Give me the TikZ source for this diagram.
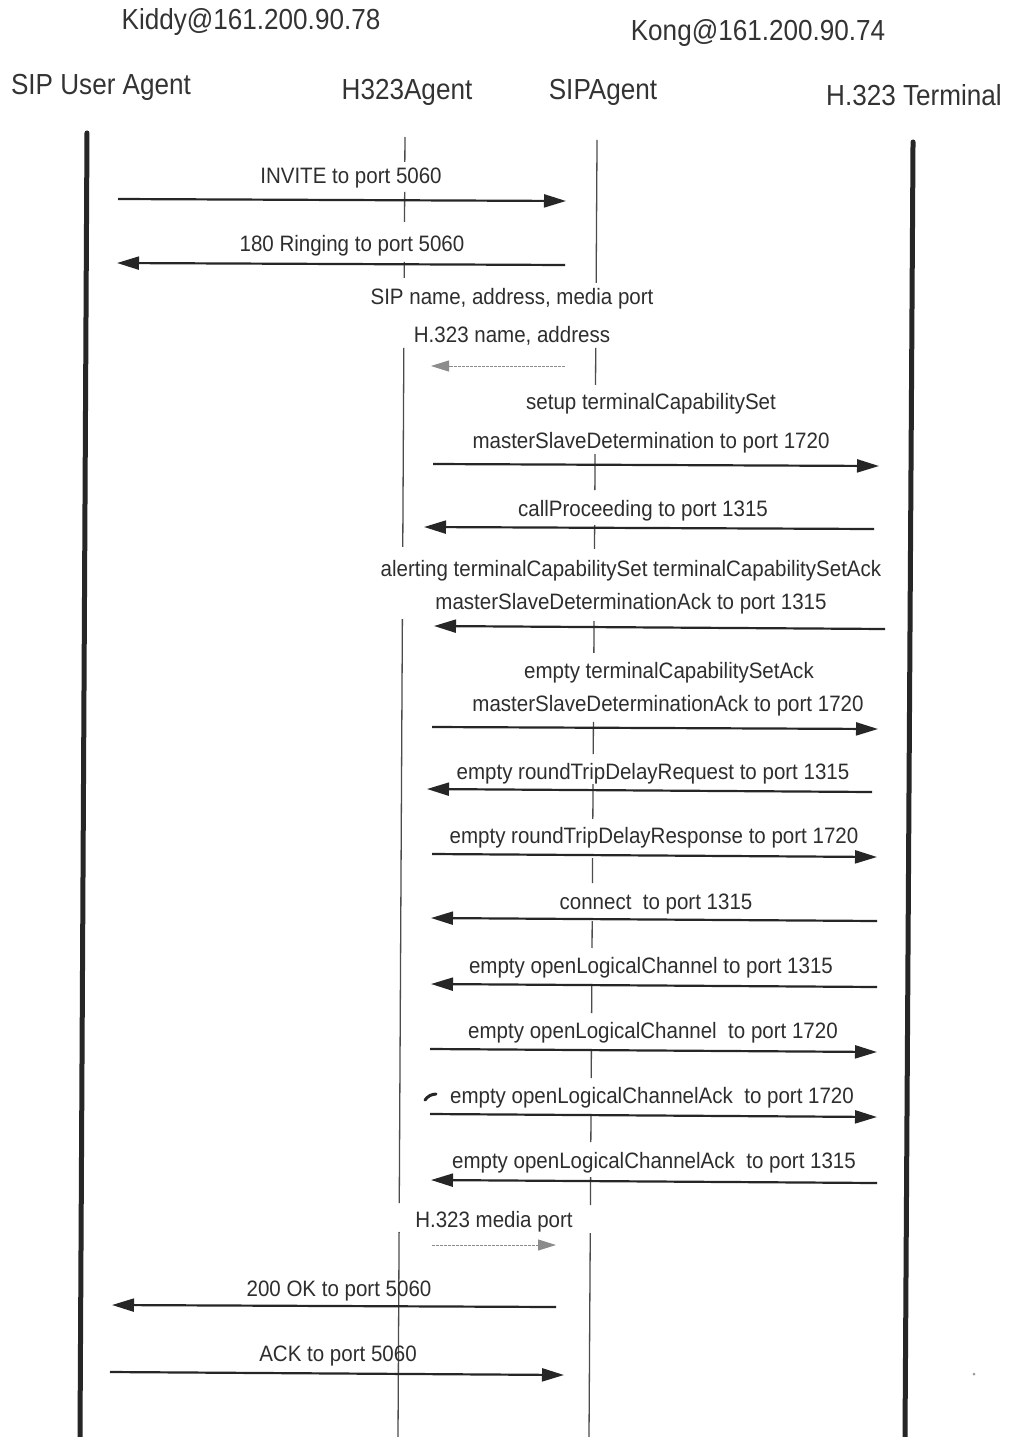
\documentclass[tikz,border=0pt]{standalone}
\usepackage{fontspec}
\setmainfont{Liberation Sans}
\newfontfamily\hdfont{Liberation Sans}[FakeStretch=0.9]
\newfontfamily\lbfont{Liberation Sans}[FakeStretch=0.92]
\usetikzlibrary{calc,arrows.meta}

\begin{document}
\begin{tikzpicture}[x=1pt,y=-1pt,
 hdr/.style={font=\hdfont\fontsize{29}{34}\selectfont, text=black!80, inner sep=0pt, text height=21pt, text depth=6pt},
 lbl/.style={font=\lbfont\fontsize{22.3}{26}\selectfont, text=black!82, inner sep=0pt, text height=16pt, text depth=4.5pt},
 msg/.style={draw=black!85, line width=2.2pt, -{Triangle[length=22pt,width=13pt]}},
 note/.style={draw=black!45, line width=1pt, dash pattern=on 3pt off 1pt, -{Triangle[length=18pt,width=11pt,fill=black!45]}},
 thicklife/.style={draw=black!85, line width=5pt, line cap=round},
 thinlife/.style={draw=black!70, line width=1.3pt},
]
\fill[white] (0,0) rectangle (1009,1437);
\useasboundingbox (0,0) rectangle (1009,1437);

% headers
\node[hdr] (kiddy) at (251,22) {Kiddy@161.200.90.78};
\node[hdr] (kong) at (758,33) {Kong@161.200.90.74};
\node[hdr] (ua) at (101,87) {SIP User Agent};
\node[hdr] (h323a) at (407,92) {H323Agent};
\node[hdr] (sipa) at (603,92) {SIPAgent};
\node[hdr] (term) at (914,98) {H.323 Terminal};

% lifeline reference points
\coordinate (U0) at (87.7,0);  \coordinate (U1) at (80,1437);
\coordinate (H0) at (405.7,0); \coordinate (H1) at (398,1437);
\coordinate (S0) at (597.9,0); \coordinate (S1) at (589,1437);
\coordinate (T0) at (913.9,0); \coordinate (T1) at (905,1437);

% thick lifelines
\draw[thicklife] ($(U0)!{133/1437}!(U1)$) -- ($(U0)!{1.01}!(U1)$);
\draw[thicklife] ($(T0)!{142/1437}!(T1)$) -- ($(T0)!{1.01}!(T1)$);

% thin lifelines (segments)
\foreach \a/\b in {137/162, 192/222, 262/278, 348/547, 619/1203, 1232/1437}
  \draw[thinlife] ($(H0)!{\a/1437}!(H1)$) -- ($(H0)!{\b/1437}!(H1)$);
\foreach \a/\b in {140/283, 348/385, 454/490, 525/549, 621/653, 722/754, 784/819, 858/883, 921/948, 984/1013, 1051/1078, 1115/1142, 1177/1205, 1233/1437}
  \draw[thinlife] ($(S0)!{\a/1437}!(S1)$) -- ($(S0)!{\b/1437}!(S1)$);

% labels
\node[lbl] (l1) at (351,178) {INVITE to port 5060};
\node[lbl] (l2) at (352,246) {180 Ringing to port 5060};
\node[lbl] (l3) at (512,299) {SIP name, address, media port};
\node[lbl] (l4) at (512,337) {H.323 name, address};
\node[lbl] (l5) at (651,404) {setup terminalCapabilitySet};
\node[lbl] (l6) at (651,443) {masterSlaveDetermination to port 1720};
\node[lbl] (l7) at (643,511) {callProceeding to port 1315};
\node[lbl] (l8) at (631,571) {alerting terminalCapabilitySet terminalCapabilitySetAck};
\node[lbl] (l9) at (631,604) {masterSlaveDeterminationAck to port 1315};
\node[lbl] (l10) at (669,673) {empty terminalCapabilitySetAck};
\node[lbl] (l11) at (668,706) {masterSlaveDeterminationAck to port 1720};
\node[lbl] (l12) at (653,774) {empty roundTripDelayRequest to port 1315};
\node[lbl] (l13) at (654,838) {empty roundTripDelayResponse to port 1720};
\node[lbl] (l14) at (656,904) {connect\ \ to port 1315};
\node[lbl] (l15) at (651,968) {empty openLogicalChannel to port 1315};
\node[lbl] (l16) at (653,1033) {empty openLogicalChannel\ \ to port 1720};
\node[lbl] (l17) at (652,1098) {empty openLogicalChannelAck\ \ to port 1720};
\node[lbl] (l18) at (654,1163) {empty openLogicalChannelAck\ \ to port 1315};
\node[lbl] (l19) at (494,1222) {H.323 media port};
\node[lbl] (l20) at (339,1291) {200 OK to port 5060};
\node[lbl] (l21) at (338,1356) {ACK to port 5060};

% message arrows
\coordinate (a1s) at (118,199);  \coordinate (a1e) at (566,201);
\coordinate (a2s) at (565,265);  \coordinate (a2e) at (117,263);
\coordinate (a3s) at (565,366);  \coordinate (a3e) at (431,366);
\coordinate (a4s) at (433,464);  \coordinate (a4e) at (879,466);
\coordinate (a5s) at (874,529);  \coordinate (a5e) at (424,527);
\coordinate (a6s) at (885,629);  \coordinate (a6e) at (434,626);
\coordinate (a7s) at (432,727);  \coordinate (a7e) at (878,729);
\coordinate (a8s) at (872,792);  \coordinate (a8e) at (427,789);
\coordinate (a9s) at (432,854);  \coordinate (a9e) at (877,857);
\coordinate (a10s) at (877,921); \coordinate (a10e) at (431,918);
\coordinate (a11s) at (877,987); \coordinate (a11e) at (431,984);
\coordinate (a12s) at (430,1049); \coordinate (a12e) at (877,1052);
\coordinate (a13s) at (430,1114); \coordinate (a13e) at (877,1117);
\coordinate (a14s) at (877,1183); \coordinate (a14e) at (431,1180);
\coordinate (a15s) at (432,1245); \coordinate (a15e) at (556,1245);
\coordinate (a16s) at (556,1307); \coordinate (a16e) at (112,1305);
\coordinate (a17s) at (110,1372); \coordinate (a17e) at (564,1375);

\draw[msg] (a1s) -- (a1e);
\draw[msg] (a2s) -- (a2e);
\draw[note] (a3s) -- (a3e);
\draw[msg] (a4s) -- (a4e);
\draw[msg] (a5s) -- (a5e);
\draw[msg] (a6s) -- (a6e);
\draw[msg] (a7s) -- (a7e);
\draw[msg] (a8s) -- (a8e);
\draw[msg] (a9s) -- (a9e);
\draw[msg] (a10s) -- (a10e);
\draw[msg] (a11s) -- (a11e);
\draw[msg] (a12s) -- (a12e);
\draw[msg] (a13s) -- (a13e);
\draw[msg] (a14s) -- (a14e);
\draw[note] (a15s) -- (a15e);
\draw[msg] (a16s) -- (a16e);
\draw[msg] (a17s) -- (a17e);

% small scan marks
\draw[black!85, line width=3pt, line cap=round] (425,1100) to[bend left=25] (436,1094);
\fill[black!40] (974,1374) circle (1.5);
\end{tikzpicture}
\end{document}
